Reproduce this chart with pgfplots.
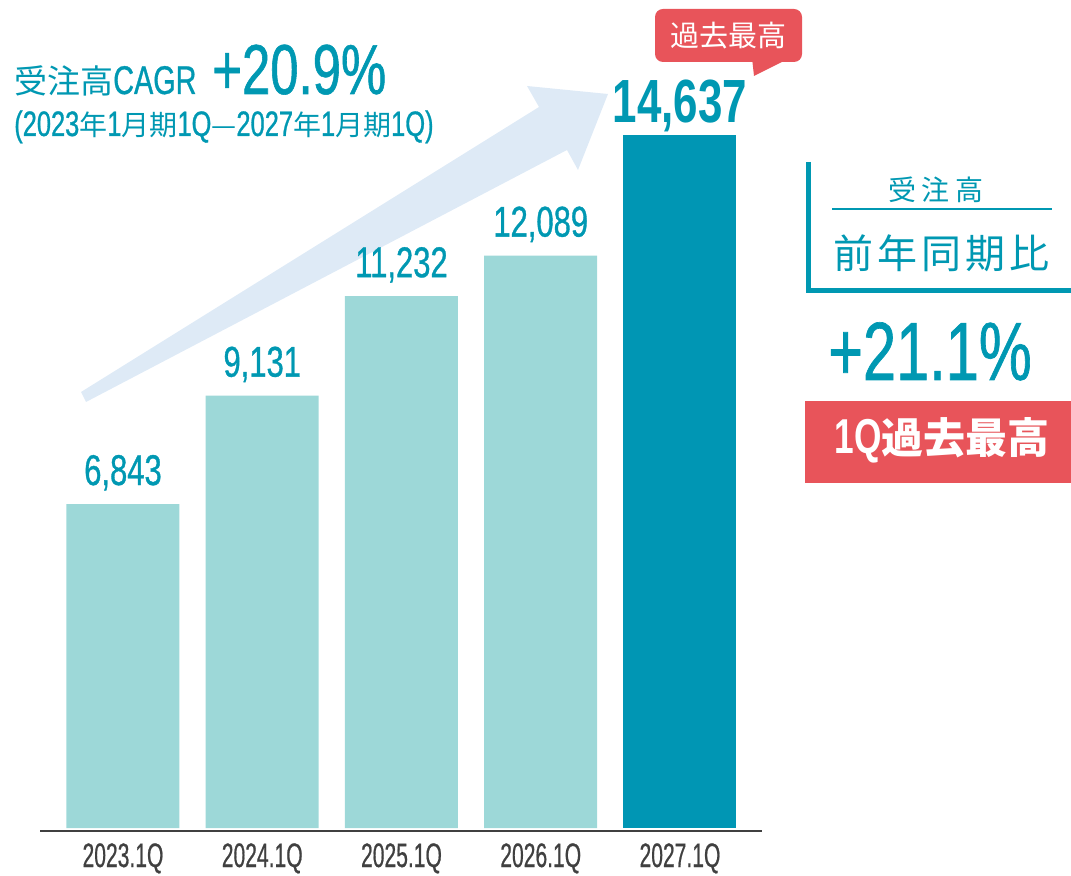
\documentclass[border=0pt]{standalone}
\usepackage{pgfplots}
\pgfplotsset{compat=1.18}
\usepackage{fontspec}
\setmainfont{Liberation Sans}
\newfontfamily\cond[FakeStretch=0.72,FakeBold=0.8]{Liberation Sans}
\newfontfamily\condb[FakeStretch=0.72]{Liberation Sans Bold}
\newfontfamily\condn[FakeStretch=0.62,FakeBold=0.6]{Liberation Sans}
\newfontfamily\cjk{Noto Sans CJK JP}
\definecolor{tealc}{HTML}{0098B2}
\definecolor{barlight}{HTML}{9DD8D8}
\definecolor{bardark}{HTML}{0096B4}
\definecolor{redc}{HTML}{E8545A}
\definecolor{arrowc}{HTML}{DEEAF6}
\definecolor{tickc}{HTML}{404040}
\newcommand{\fs}[1]{\fontsize{#1pt}{#1pt}\selectfont}
\newcommand{\la}[1]{{\cond\fs{26.5}#1}}
\newcommand{\ja}[1]{{\cjk\fs{21}#1}}
\begin{document}
\begin{tikzpicture}
\useasboundingbox (0,0) rectangle (803.25pt,656.25pt);
\clip (0,0) rectangle (803.25pt,656.25pt);
\begin{scope}[x=0.75pt,y=-0.75pt,shift={(0pt,656.25pt)}]
  \fill[arrowc] (81,392) -- (539,107) -- (527,86) -- (608,94) -- (578,170) -- (567,150) -- (86,402) -- cycle;
\end{scope}
\begin{axis}[
  at={(30pt,33pt)}, anchor=south west,
  scale only axis, width=541.5pt, height=552.75pt,
  xmin=-0.596, xmax=4.589, ymin=-63, ymax=15502,
  axis y line=none, axis x line=bottom,
  axis line style={-, draw=tickc, line width=1.1pt},
  xtick={0,1,2,3,4},
  xticklabels={2023.1Q,2024.1Q,2025.1Q,2026.1Q,2027.1Q},
  major tick length=0pt,
  xticklabel style={font=\condn\fs{25.5}, text=tickc, inner sep=0pt, anchor=north, yshift=-9pt},
  ytick=\empty,
  ybar, bar width=84.75pt,
  clip=false,
  nodes near coords={\pgfplotspointmeta},
  point meta=explicit symbolic,
]
\addplot[fill=barlight, draw=none, bar shift=0pt,
  nodes near coords style={font=\cond\fs{32.25}, text=tealc, anchor=base, yshift=14.25pt}]
  table[meta=label]{
x y label
0 6843 6,843
1 9131 9,131
2 11232 11,232
3 12089 12,089
};
\addplot[fill=bardark, draw=none, bar shift=0pt,
  nodes near coords style={font=\condb\fs{45.75}, text=tealc, anchor=base, yshift=9pt}]
  table[meta=label]{
x y label
4 14637 14,637
};
\end{axis}
\begin{scope}[x=0.75pt,y=-0.75pt,shift={(0pt,656.25pt)}]
  \node[anchor=base west, inner sep=0pt, text=tealc] at (14,94) {{\cjk\fs{24.75}受注高}{\cond\fs{30}CAGR}};
  \node[anchor=base west, inner sep=0pt, text=tealc] at (212,94) {\cond\fs{53}+20.9\%};
  \node[anchor=base west, inner sep=0pt, text=tealc] at (14,136) {\la{(2023}\ja{年}\la{1}\ja{月期}\la{1Q}\ja{—}\la{2027}\ja{年}\la{1}\ja{月期}\la{1Q)}};
  \fill[redc, rounded corners=6pt] (655,9) rectangle (802,62);
  \fill[redc] (752,58) -- (754,76) -- (790,58) -- cycle;
  \node[text=white, inner sep=0pt] at (728,36) {\cjk\fs{21.75}過去最高};
  \draw[tealc, line width=3.75pt, line join=miter] (808.5,162) -- (808.5,291) -- (1075,291);
  \draw[tealc, line width=0.8pt] (832,209) -- (1052,209);
  \node[text=tealc, inner sep=0pt] at (936,190) {\cjk\fs{21}受\hspace{4pt}注\hspace{4pt}高};
  \node[text=tealc, inner sep=0pt] at (941,253) {\cjk\fs{30}前\hspace{3pt}年\hspace{3pt}同\hspace{3pt}期\hspace{3pt}比};
  \node[anchor=base west, inner sep=0pt, text=tealc] at (828,380) {\cond\fs{62}+21.1\%};
  \fill[redc] (805,401) rectangle (1075,483);
  \node[text=white, inner sep=0pt] at (942,440) {{\condb\fs{36.75}1Q}{\cjk\bfseries\fs{31.5}過去最高}};
\end{scope}
\end{tikzpicture}
\end{document}
